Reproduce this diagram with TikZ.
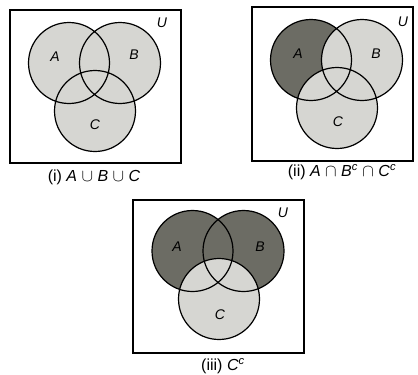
\documentclass[tikz,border=0pt]{standalone}
\usepackage{fontspec}
\setmainfont{Liberation Sans}
\definecolor{lightfill}{RGB}{214,214,210}
\definecolor{darkfill}{RGB}{108,108,100}
\tikzset{
  setline/.style={line width=1.2pt},
  boxline/.style={line width=1.4pt},
  setlabel/.style={font=\fontsize{14}{14}\selectfont\itshape, inner sep=0pt},
  caption/.style={font=\fontsize{16}{16}\selectfont, inner sep=0pt},
}
\newcommand{\vr}{40.5pt}
\begin{document}
\begin{tikzpicture}[x=1pt,y=-1pt]
\useasboundingbox (0,0) rectangle (418,375);
% ---------- panel (i)
\coordinate (Ai) at (69,63);
\coordinate (Bi) at (120,63);
\coordinate (Ci) at (95,111);
\fill[lightfill] (Ai) circle[radius=\vr];
\fill[lightfill] (Bi) circle[radius=\vr];
\fill[lightfill] (Ci) circle[radius=\vr];
\draw[setline] (Ai) circle[radius=\vr] (Bi) circle[radius=\vr] (Ci) circle[radius=\vr];
\draw[boxline] (10,10) rectangle (181,163);
\node[setlabel] (Ui) at (162,23) {U};
\node[setlabel] (LAi) at (55,57) {A};
\node[setlabel] (LBi) at (134,55) {B};
\node[setlabel] (LCi) at (95,125) {C};
\node[caption] (capi) at (94,177) {(i) \textit{A} $\cup$ \textit{B} $\cup$ \textit{C}};
% ---------- panel (ii)
\coordinate (Aii) at (311,60);
\coordinate (Bii) at (362,60);
\coordinate (Cii) at (337,108);
\fill[darkfill] (Aii) circle[radius=\vr];
\fill[lightfill] (Bii) circle[radius=\vr];
\fill[lightfill] (Cii) circle[radius=\vr];
\draw[setline] (Aii) circle[radius=\vr] (Bii) circle[radius=\vr] (Cii) circle[radius=\vr];
\draw[boxline] (252,7) rectangle (413,161);
\node[setlabel] (Uii) at (403,22) {U};
\node[setlabel] (LAii) at (298,54) {A};
\node[setlabel] (LBii) at (376,54) {B};
\node[setlabel] (LCii) at (338,122) {C};
\node[caption] (capii) at (342,172) {(ii) \textit{A} $\cap$ \textit{B}\textsuperscript{\textit{c}} $\cap$ \textit{C}\textsuperscript{\textit{c}}};
% ---------- panel (iii)
\coordinate (Aiii) at (192.5,251);
\coordinate (Biii) at (243.5,251);
\coordinate (Ciii) at (219,299);
\fill[darkfill] (Aiii) circle[radius=\vr];
\fill[darkfill] (Biii) circle[radius=\vr];
\fill[lightfill] (Ciii) circle[radius=\vr];
\draw[setline] (Aiii) circle[radius=\vr] (Biii) circle[radius=\vr] (Ciii) circle[radius=\vr];
\draw[boxline] (133,200) rectangle (304,353);
\node[setlabel] (Uiii) at (283,213) {U};
\node[setlabel] (LAiii) at (177,247) {A};
\node[setlabel] (LBiii) at (260,247) {B};
\node[setlabel] (LCiii) at (220,315) {C};
\node[caption] (capiii) at (223,366) {(iii) \textit{C}\textsuperscript{\textit{c}}};
\end{tikzpicture}
\end{document}
